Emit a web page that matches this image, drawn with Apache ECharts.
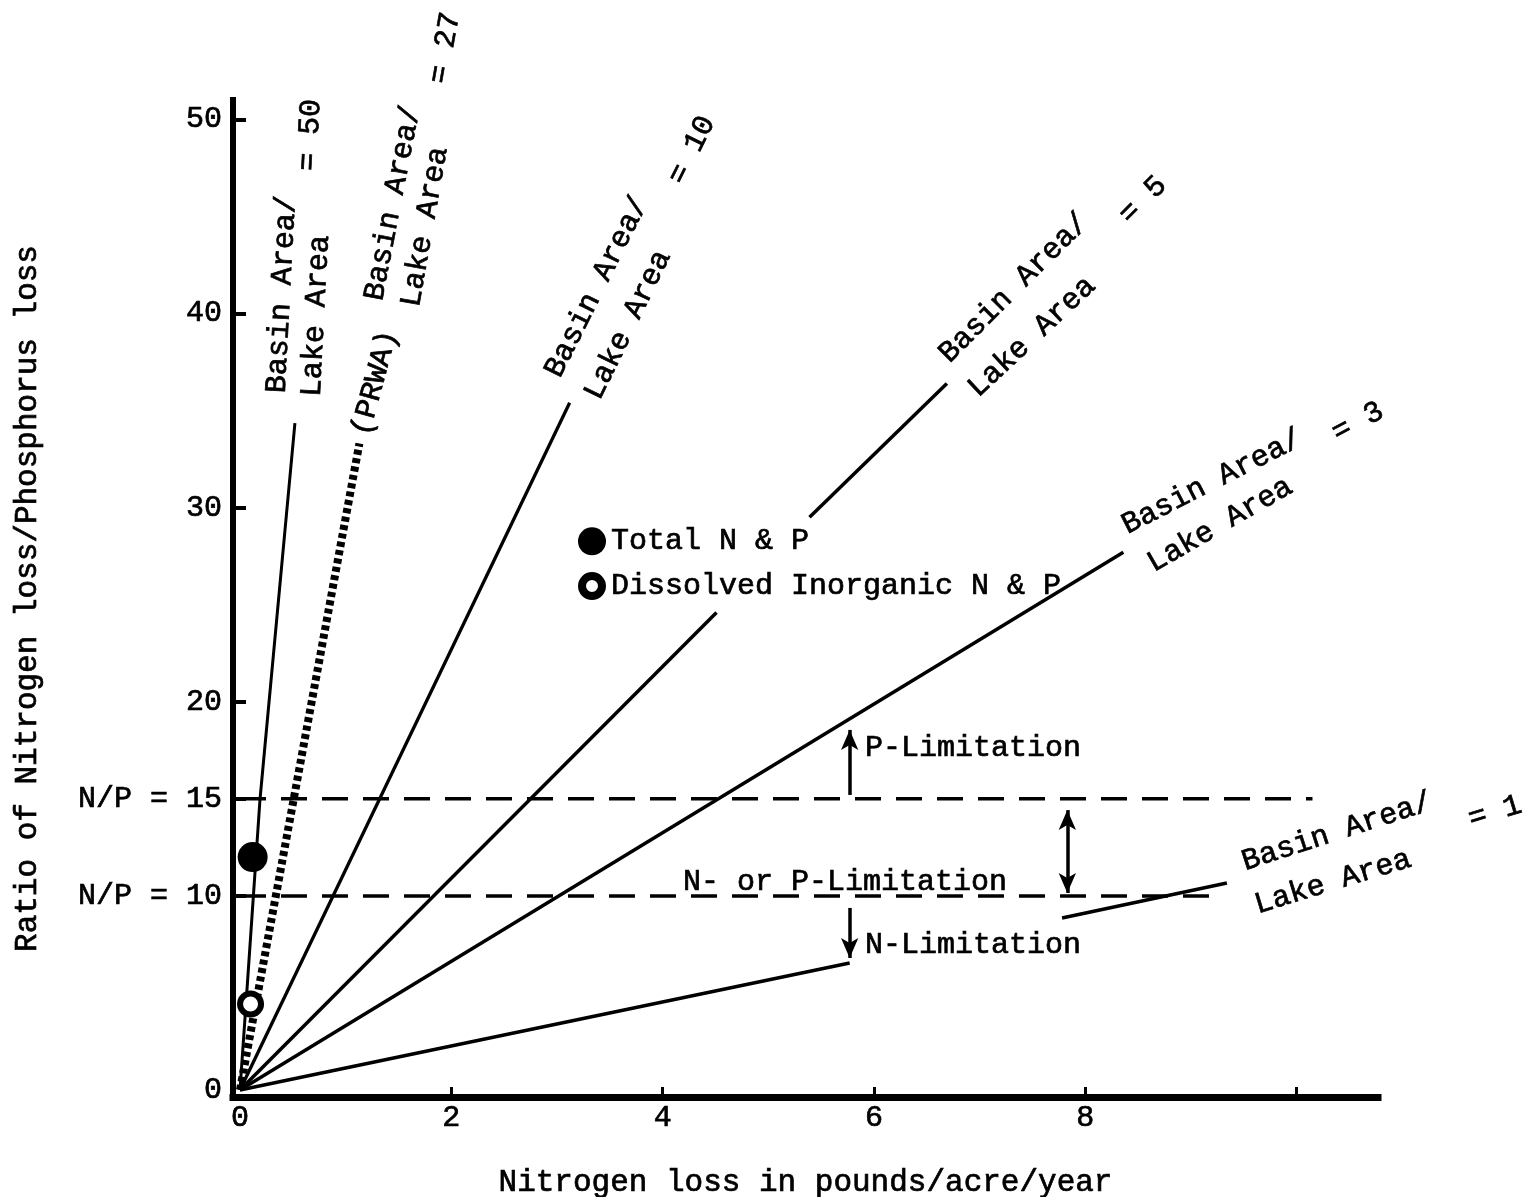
<!DOCTYPE html>
<html><head><meta charset="utf-8">
<script src="https://cdn.jsdelivr.net/npm/echarts@6/dist/echarts.min.js"></script>
<style>html,body{margin:0;padding:0;background:#fff}#c{width:1525px;height:1197px}</style>
</head><body><div id="c"></div>
<script>
// ---- axis ticks / labels ----
const xTickValues = [2, 4, 6, 8, 10];
const xLabelValues = [0, 2, 4, 6, 8];
const yTickValues = [10, 15, 20, 30, 40, 50];
const yLabelValues = [0, 10, 15, 20, 30, 40, 50];

// ---- basin area / lake area lines (N loss, N/P ratio) ----
const line50  = [[0, 0], [0.066, 5.15], [0.189, 14.94], [0.52, 34.36]];
const line27  = [[0, 0], [1.13, 33.3]];
const line10  = [[0, 0], [3.12, 35.4]];
const line5a  = [[0, 0], [4.51, 24.6]];
const line5b  = [[5.39, 29.5], [6.69, 36.4]];
const line3   = [[0, 0], [8.36, 27.7]];
const line1a  = [[0, 0], [5.77, 6.54]];
const line1b  = [[7.78, 8.86], [9.34, 10.66]];

// ---- N/P thresholds ----
const np15 = [[0, 15], [10.15, 15]];
const np10 = [[0, 10], [9.2, 10]];

// ---- observed points ----
const totalNP = [[0.12, 12.0]];
const dissolvedNP = [[0.10, 4.43]];

// ---- arrows ----
const arrowP  = [[5.77, 15.2], [5.77, 18.55]];
const arrowN  = [[5.77, 9.38], [5.77, 6.8]];
const arrowNP = [[7.83, 14.42], [7.83, 10.15]];

const FONT = '"Liberation Mono", "Courier New", monospace';
const TB = 0.7;

// annotation texts anchored in data coordinates
const annotations = [
  {text: 'Basin Area/', at: [0.397, 41.0], rot: 87},
  {text: 'Lake Area',   at: [0.719, 39.87], rot: 87},
  {text: '= 50',        at: [0.662, 49.2], rot: 87},
  {text: '(PRWA)',      at: [1.278, 36.42], rot: 75},
  {text: 'Basin Area/', at: [1.448, 45.69], rot: 79},
  {text: 'Lake Area',   at: [1.751, 44.46], rot: 80},
  {text: '= 27',        at: [1.94, 53.68], rot: 80},
  {text: 'Basin Area/', at: [3.378, 41.37], rot: 63.5},
  {text: 'Lake Area',   at: [3.672, 39.41], rot: 64},
  {text: '= 10',        at: [4.277, 48.42], rot: 63.5},
  {text: 'Basin Area/', at: [7.325, 41.31], rot: 45},
  {text: 'Lake Area',   at: [7.495, 38.79], rot: 43},
  {text: '= 5',         at: [8.546, 45.85], rot: 45},
  {text: 'Basin Area/', at: [9.199, 31.32], rot: 27},
  {text: 'Lake Area',   at: [9.275, 29.11], rot: 30},
  {text: '= 3',         at: [10.58, 34.41], rot: 28},
  {text: 'Basin Area/', at: [10.381, 13.29], rot: 18},
  {text: 'Lake Area',   at: [10.343, 10.71], rot: 17},
  {text: '= 1',         at: [11.877, 14.32], rot: 17},
  {text: 'P-Limitation', at: [5.915, 17.62], rot: 0, align: 'left'},
  {text: 'N-Limitation', at: [5.915, 7.47], rot: 0, align: 'left'},
  {text: 'N- or P-Limitation', at: [5.725, 10.72], rot: 0}
];

const chart = echarts.init(document.getElementById('c'), null, {renderer: 'canvas'});

function lineSeries(name, data, width, type) {
  return {
    name: name, type: 'line', data: data, symbol: 'none', silent: true,
    lineStyle: {color: '#000', width: width, type: type || 'solid', cap: 'butt'},
    z: 3, animation: false
  };
}
function arrowSeries(name, pts, both) {
  return {
    name: name, type: 'line', data: [], silent: true, animation: false,
    markLine: {
      silent: true, animation: false,
      symbol: both ? ['arrow', 'arrow'] : ['none', 'arrow'],
      symbolSize: [13, 20],
      label: {show: false},
      lineStyle: {color: '#000', width: 3.5, type: 'solid'},
      data: [[{coord: pts[0]}, {coord: pts[1]}]]
    }
  };
}

const ringPath = 'path://M0,-14A14,14 0 1,1 0,14A14,14 0 1,1 0,-14ZM0,-6A6,6 0 1,0 0,6A6,6 0 1,0 0,-6Z';

chart.setOption({
  backgroundColor: '#fff',
  animation: false,
  grid: {left: 233, right: 147, top: 100, bottom: 100, containLabel: false, outerBoundsMode: 'none'},
  legend: {
    orient: 'vertical', left: 573, top: 521, itemGap: 14,
    itemWidth: 28, itemHeight: 28, selectedMode: false,
    textStyle: {fontFamily: FONT, fontSize: 30, lineHeight: 30, color: '#000', textBorderColor: '#000', textBorderWidth: TB},
    data: [
      {name: 'Total N & P', icon: 'circle', itemStyle: {color: '#000', borderWidth: 0}},
      {name: 'Dissolved Inorganic N & P', icon: ringPath, itemStyle: {color: '#000', borderWidth: 0}}
    ]
  },
  xAxis: {
    type: 'value', min: -0.066, max: 10.77,
    name: 'Nitrogen loss in pounds/acre/year', nameLocation: 'middle', nameGap: 70,
    nameTextStyle: {fontFamily: FONT, fontSize: 31, color: '#000', textBorderColor: '#000', textBorderWidth: TB},
    axisLine: {show: true, onZero: false, lineStyle: {color: '#000', width: 7, cap: 'square'}},
    axisTick: {show: true, inside: true, length: 10, customValues: xTickValues, lineStyle: {color: '#000', width: 3}},
    axisLabel: {show: true, customValues: xLabelValues, margin: 6, fontFamily: FONT, fontSize: 30, color: '#000', textBorderColor: '#000', textBorderWidth: TB},
    splitLine: {show: false}
  },
  yAxis: {
    type: 'value', min: -0.36, max: 51.0,
    name: 'Ratio of Nitrogen loss/Phosphorus loss', nameLocation: 'middle', nameGap: 190, nameRotate: 90,
    nameTextStyle: {fontFamily: FONT, fontSize: 31, color: '#000', textBorderColor: '#000', textBorderWidth: TB},
    axisLine: {show: true, onZero: false, lineStyle: {color: '#000', width: 6, cap: 'square'}},
    axisTick: {show: true, inside: true, length: 13, customValues: yTickValues, lineStyle: {color: '#000', width: 4}},
    axisLabel: {
      show: true, customValues: yLabelValues, margin: 11, fontFamily: FONT, fontSize: 30, color: '#000',
      textBorderColor: '#000', textBorderWidth: TB,
      formatter: function (v) { return (v === 10 || v === 15) ? 'N/P = ' + v : String(v); }
    },
    splitLine: {show: false}
  },
  series: [
    lineSeries('ratio50', line50, 3),
    lineSeries('ratio27', line27, 8, [5, 3.5]),
    lineSeries('ratio10', line10, 3.3),
    lineSeries('ratio5a', line5a, 3.5),
    lineSeries('ratio5b', line5b, 3.5),
    lineSeries('ratio3', line3, 3.5),
    lineSeries('ratio1a', line1a, 3.5),
    lineSeries('ratio1b', line1b, 3.5),
    lineSeries('np15', np15, 3.5, [26, 15]),
    lineSeries('np10', np10, 3.5, [26, 15]),
    arrowSeries('arrowP', arrowP, false),
    arrowSeries('arrowN', arrowN, false),
    arrowSeries('arrowNP', arrowNP, true),
    {
      name: 'Total N & P', type: 'scatter', data: totalNP, symbol: 'circle', symbolSize: 30,
      itemStyle: {color: '#000', opacity: 1}, z: 5, silent: true
    },
    {
      name: 'Dissolved Inorganic N & P', type: 'scatter', data: dissolvedNP, symbol: 'circle', symbolSize: 21,
      itemStyle: {color: '#fff', borderColor: '#000', borderWidth: 6, opacity: 1}, z: 5, silent: true
    }
  ]
});

const graphics = annotations.map(function (a) {
  const p = chart.convertToPixel({gridIndex: 0}, a.at);
  const al = a.align || 'center';
  return {
    type: 'text', x: p[0], y: p[1], rotation: a.rot * Math.PI / 180, silent: true, z: 10,
    style: {
      text: a.text, fill: '#000', stroke: '#000', lineWidth: TB,
      font: '30px ' + FONT,
      align: al, verticalAlign: 'middle', textAlign: al, textVerticalAlign: 'middle'
    }
  };
});
chart.setOption({graphic: graphics});
</script>
</body></html>
